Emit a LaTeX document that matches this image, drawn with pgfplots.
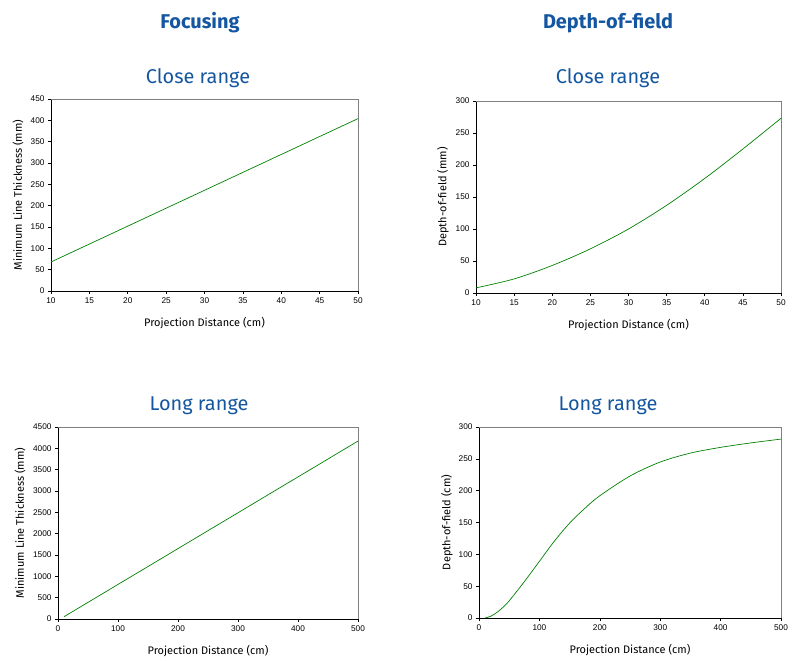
\documentclass[border=0pt]{standalone}
\usepackage{fontspec}
\setmainfont{Liberation Sans}
\newfontfamily\labfont{Fira Sans}
\usepackage{pgfplots}
\pgfplotsset{compat=1.18}
\definecolor{ttl}{RGB}{20,86,160}
\definecolor{ln}{RGB}{0,128,0}
\pgfplotsset{
  myax/.style={
    scale only axis,
    axis lines=left,
    axis line style={-, black, line width=0.8pt},
    tick align=outside,
    tick style={black, line width=0.6pt},
    major tick length=3bp,
    ticklabel style={font=\fontsize{8.3}{9}\selectfont},
    /pgf/number format/assume math mode=true,
    /pgf/number format/1000 sep={},
    scaled ticks=false,
    xlabel style={font=\labfont\fontsize{11}{13}\selectfont, at={(axis description cs:0.5,0)}, anchor=center, yshift=-32bp},
    ylabel style={font=\labfont\fontsize{11}{13}\selectfont, at={(axis description cs:0,0.5)}, anchor=center, yshift=33bp},
    clip=false,
  },
  myline/.style={ln, line width=0.7pt, no marks},
}
\begin{document}
\begin{tikzpicture}[x=1bp,y=1bp]
\path (0,0) rectangle (795,658);
% titles
\node[font=\labfont\bfseries\fontsize{20}{22}\selectfont, text=ttl] at (200,635) {Focusing};
\node[font=\labfont\bfseries\fontsize{20}{22}\selectfont, text=ttl] at (608,635) {Depth-of-field};
\node[font=\labfont\fontsize{20}{22}\selectfont, text=ttl] at (198,580) {Close range};
\node[font=\labfont\fontsize{20}{22}\selectfont, text=ttl] at (608,580) {Close range};
\node[font=\labfont\fontsize{20}{22}\selectfont, text=ttl] at (199,252) {Long range};
\node[font=\labfont\fontsize{20}{22}\selectfont, text=ttl] at (608,252) {Long range};

% top-left
\begin{axis}[myax, at={(51bp,367bp)}, anchor=south west, width=307bp, height=192bp,
  xmin=10, xmax=50, ymin=0, ymax=450,
  xtick={10,15,...,50}, ytick={0,50,...,450},
  xlabel={Projection Distance (cm)}, ylabel={Minimum Line Thickness (mm)}]
\draw[gray, line width=0.6pt] (rel axis cs:0,1) -- (rel axis cs:1,1) -- (rel axis cs:1,0);
\addplot[myline] coordinates {(10,68) (50,404)};
\end{axis}

% top-right
\begin{axis}[myax, at={(476bp,365bp)}, anchor=south west, width=305bp, height=192bp,
  xmin=10, xmax=50, ymin=0, ymax=300,
  xtick={10,15,...,50}, ytick={0,50,...,300},
  xlabel={Projection Distance (cm)}, ylabel={Depth-of-field (mm)}]
\draw[gray, line width=0.6pt] (rel axis cs:0,1) -- (rel axis cs:1,1) -- (rel axis cs:1,0);
\addplot[myline, smooth] coordinates {(10,8) (15,22) (20,43) (25,69) (30,100) (35,137) (40,179) (45,225) (50,273)};
\end{axis}

% bottom-left
\begin{axis}[myax, at={(58bp,39bp)}, anchor=south west, width=300bp, height=192bp,
  xmin=0, xmax=500, ymin=0, ymax=4500,
  xtick={0,100,...,500}, ytick={0,500,...,4500},
  xlabel={Projection Distance (cm)}, ylabel={Minimum Line Thickness (mm)},
  ylabel style={yshift=5bp}]
\draw[gray, line width=0.6pt] (rel axis cs:0,1) -- (rel axis cs:1,1) -- (rel axis cs:1,0);
\addplot[myline] coordinates {(10,54) (500,4170)};
\end{axis}

% bottom-right
\begin{axis}[myax, at={(479bp,40bp)}, anchor=south west, width=302bp, height=191bp,
  xmin=0, xmax=500, ymin=0, ymax=300,
  xtick={0,100,...,500}, ytick={0,50,...,300},
  xlabel={Projection Distance (cm)}, ylabel={Depth-of-field (cm)},
  ylabel style={yshift=-1bp}]
\draw[gray, line width=0.6pt] (rel axis cs:0,1) -- (rel axis cs:1,1) -- (rel axis cs:1,0);
\addplot[myline, smooth] coordinates {(10,0) (20,3) (30,9) (40,17) (50,27) (75,57) (100,89) (125,121) (150,149) (175,172) (200,192) (250,223) (300,245) (350,259) (400,268) (450,275) (500,281)};
\end{axis}
\end{tikzpicture}
\end{document}
